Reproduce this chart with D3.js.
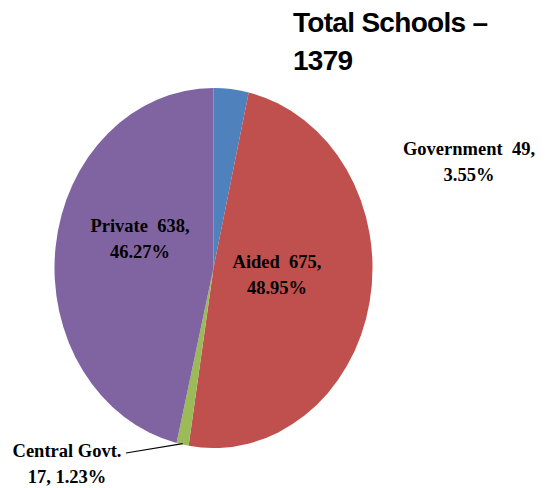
<!DOCTYPE html>
<html>
<head>
<meta charset="utf-8">
<script src="https://cdn.jsdelivr.net/npm/d3@7"></script>
<style>
  html, body { margin: 0; padding: 0; background: #fff; }
  svg { display: block; }
</style>
</head>
<body>
<script>
// School counts by management type
const categories = ["Government", "Aided", "Central Govt.", "Private"];
const counts = [49, 675, 17, 638];
const percentLabels = ["3.55%", "48.95%", "1.23%", "46.27%"];
const colors = ["#4F81BD", "#C0504D", "#9BBB59", "#8064A2"];
const titleLines = ["Total Schools \u2013", "1379"];

const W = 554, H = 488;
const cx = 213.5, cy = 268;
const rx = 159, ry = 180;   // pie is drawn stretched into an ellipse

const svg = d3.select("body").append("svg")
  .attr("width", W).attr("height", H);

const data = categories.map((c, i) => ({ name: c, value: counts[i], pct: percentLabels[i], color: colors[i] }));

const pie = d3.pie().sort(null).value(d => d.value).startAngle(0).endAngle(2 * Math.PI);
const arcs = pie(data);
const arc = d3.arc().innerRadius(0).outerRadius(ry);

const pieG = svg.append("g")
  .attr("transform", `translate(${cx},${cy}) scale(${rx / ry},1)`);

pieG.selectAll("path").data(arcs).join("path")
  .attr("d", arc)
  .attr("fill", d => d.data.color);

// point on the ellipse edge for a given angle
function edgePoint(a, k) {
  return [cx + rx * k * Math.sin(a), cy - ry * k * Math.cos(a)];
}

// label layout: [x center, first baseline]
const labelPos = {
  "Government": [469, 155],
  "Aided": [277, 268],
  "Central Govt.": [67, 457],
  "Private": [140, 232]
};

const lineGap = 26;
const labelG = svg.append("g")
  .attr("font-family", "'Liberation Serif', 'Times New Roman', serif")
  .attr("font-weight", "bold")
  .attr("font-size", 18.5)
  .attr("fill", "#000")
  .attr("text-anchor", "middle");

arcs.forEach(a => {
  const d = a.data;
  const [x, y] = labelPos[d.name];
  let l1, l2;
  if (d.name === "Central Govt.") {
    l1 = d.name;
    l2 = `${d.value}, ${d.pct}`;
  } else {
    l1 = `${d.name}\u00A0 ${d.value},`;
    l2 = d.pct;
  }
  const t = labelG.append("text").attr("x", x).attr("y", y);
  t.append("tspan").attr("x", x).attr("y", y).text(l1);
  t.append("tspan").attr("x", x).attr("y", y + lineGap).text(l2);
});

// leader line for the thin Central Govt. slice
const cg = arcs[2];
const mid = (cg.startAngle + cg.endAngle) / 2;
const end = edgePoint(mid, 0.995);
svg.append("line")
  .attr("x1", 126).attr("y1", 453)
  .attr("x2", end[0]).attr("y2", end[1])
  .attr("stroke", "#000").attr("stroke-width", 1.2);

// title
const title = svg.append("text")
  .attr("font-family", "Arial, 'Liberation Sans', sans-serif")
  .attr("font-weight", "bold")
  .attr("font-size", 28)
  .attr("letter-spacing", -0.7)
  .attr("fill", "#000");
title.append("tspan").attr("x", 293).attr("y", 32).text(titleLines[0]);
title.append("tspan").attr("x", 293).attr("y", 70).text(titleLines[1]);
</script>
</body>
</html>
